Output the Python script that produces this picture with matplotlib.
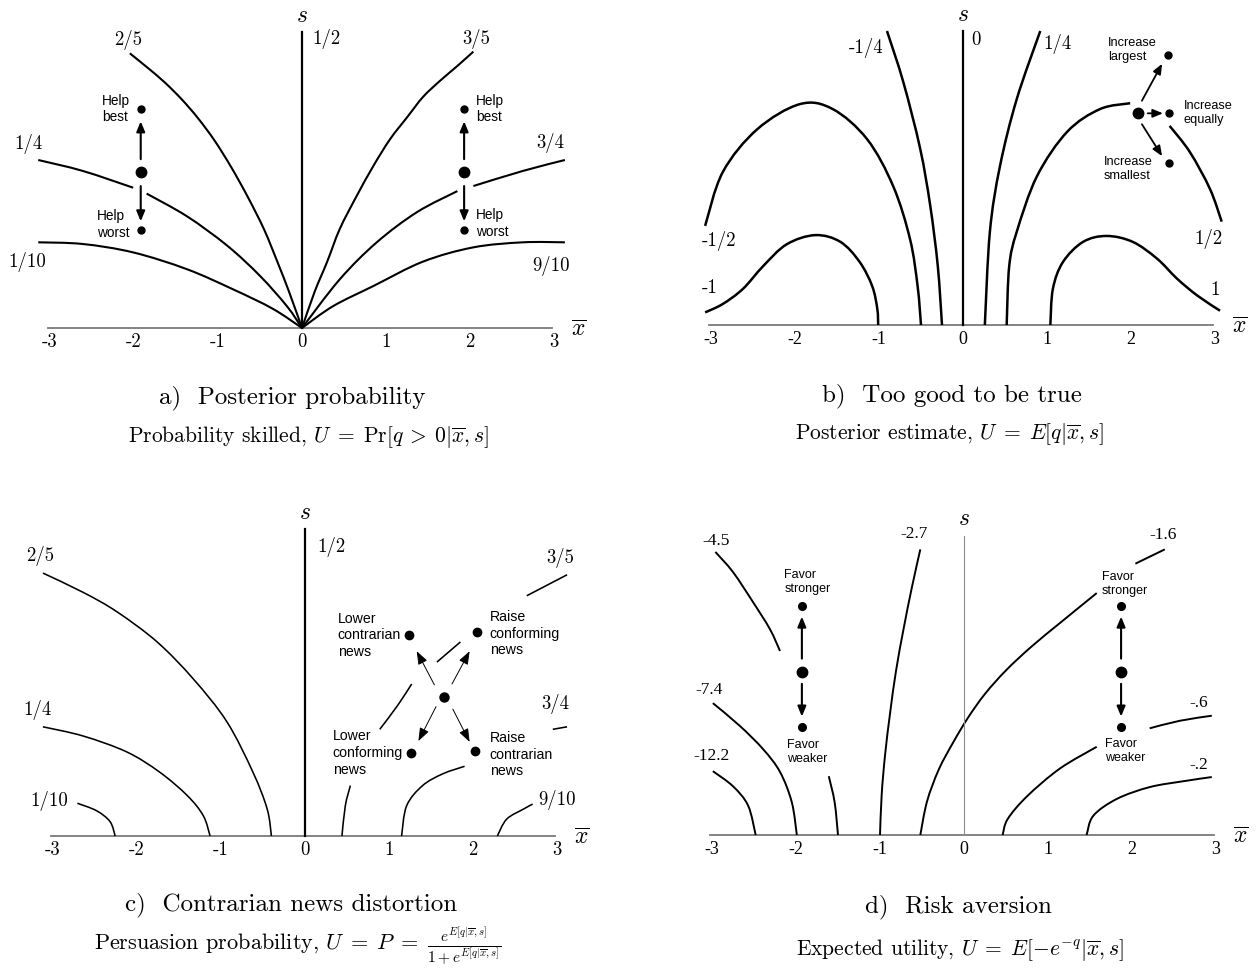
import matplotlib
matplotlib.use("Agg")
import matplotlib.pyplot as plt
from matplotlib.path import Path
from matplotlib.patches import PathPatch
import numpy as np

plt.rcParams['mathtext.fontset'] = 'cm'
nan = np.nan
W, H = 1258, 970

# ---- panel a: posterior probability, curves as (xbar, s) points
a_2_5 = [(-2.05, 3.27), (-1.84, 3.10), (-1.63, 2.92), (-1.43, 2.72), (-1.24, 2.50), (-1.04, 2.23),
         (-0.84, 1.91), (-0.64, 1.55), (-0.45, 1.17), (-0.29, 0.78), (-0.15, 0.42), (0, 0)]
a_3_5 = [(2.04, 3.29), (1.85, 3.12), (1.64, 2.94), (1.44, 2.75), (1.26, 2.52), (1.05, 2.25),
         (0.85, 1.93), (0.65, 1.57), (0.45, 1.18), (0.30, 0.79), (0.15, 0.43), (0, 0)]
a_1_4 = [(-3.14, 2.00), (-2.61, 1.87), (-2.01, 1.67), (nan, nan), (-1.85, 1.60),
         (-1.37, 1.33), (-0.89, 0.98), (-0.50, 0.62), (-0.18, 0.26), (0, 0)]
a_3_4 = [(3.13, 2.00), (2.63, 1.87), (2.04, 1.69), (nan, nan), (1.85, 1.63),
         (1.37, 1.38), (0.89, 1.02), (0.45, 0.58), (0, 0)]
a_1_10 = [(-3.14, 1.02), (-2.61, 1.00), (-2.01, 0.90), (-1.37, 0.70), (-0.82, 0.46),
          (-0.35, 0.23), (0, 0)]
a_9_10 = [(3.13, 1.02), (2.63, 1.02), (2.04, 0.96), (1.44, 0.79), (0.85, 0.50),
          (0.37, 0.26), (0, 0)]
a_dots_x = [-1.92, 1.93]
a_dots_s = [2.61, 1.86, 1.17]

# ---- panel b: too good to be true
b_m1_4 = [(-0.905, 3.50), (-0.71, 2.89), (-0.51, 2.10), (-0.39, 1.42), (-0.30, 0.70), (-0.25, 0)]
b_1_4 = [(0.92, 3.50), (0.64, 2.69), (0.44, 1.89), (0.32, 1.11), (0.26, 0)]
b_m1_2 = [(-3.07, 1.18), (-2.86, 1.82), (-2.45, 2.33), (-1.94, 2.63), (-1.55, 2.57),
          (-1.14, 2.21), (-0.83, 1.65), (-0.63, 1.02), (-0.54, 0.46), (-0.50, 0)]
b_1_2 = [(0.52, 0), (0.55, 0.70), (0.64, 1.11), (0.88, 1.77), (1.24, 2.30), (1.63, 2.57),
         (1.99, 2.64), (nan, nan), (2.46, 2.37), (2.70, 2.06), (2.94, 1.62), (3.08, 1.23)]
b_m1 = [(-3.07, 0.15), (-2.86, 0.25), (-2.62, 0.43), (-2.38, 0.70), (-2.10, 0.96),
        (-1.76, 1.07), (-1.46, 0.99), (-1.23, 0.75), (-1.08, 0.46), (-1.02, 0.19), (-1.01, 0)]
b_1 = [(1.04, 0), (1.07, 0.43), (1.19, 0.75), (1.43, 0.99), (1.71, 1.06), (2.02, 0.99),
       (2.31, 0.79), (2.55, 0.55), (2.79, 0.35), (3.06, 0.17)]
b_dot_center = (2.08, 2.52)
b_dots_x = [2.44, 2.45, 2.45]
b_dots_s = [3.21, 2.52, 1.93]

# ---- panel c: contrarian news distortion
c_2_5 = [(-3.12, 3.13), (-2.64, 2.90), (-2.24, 2.67), (-1.76, 2.31), (-1.33, 1.87),
         (-0.93, 1.36), (-0.62, 0.76), (-0.45, 0.32), (-0.40, 0)]
c_1_4 = [(-3.12, 1.30), (-2.64, 1.19), (-2.12, 1.00), (-1.73, 0.76), (-1.40, 0.48),
         (-1.21, 0.24), (-1.13, 0)]
c_1_10 = [(-2.71, 0.39), (-2.48, 0.30), (-2.32, 0.17), (-2.26, 0)]
c_3_5 = [(0.44, 0), (0.48, 0.36), (0.54, 0.60), (nan, nan), (0.89, 1.27), (1.10, 1.55),
         (1.27, 1.81), (nan, nan), (1.57, 2.07), (1.85, 2.31), (nan, nan), (2.64, 2.86), (3.12, 3.11)]
c_3_4 = [(1.15, 0), (1.21, 0.36), (1.40, 0.60), (1.64, 0.74), (1.90, 0.83), (nan, nan),
         (2.95, 1.27), (3.12, 1.30)]
c_9_10 = [(2.29, 0), (2.40, 0.20), (2.60, 0.32), (2.71, 0.38)]
c_dot_center = (1.65, 1.65)
c_dots_x = [1.24, 2.05, 1.26, 2.02]
c_dots_s = [2.39, 2.43, 0.99, 1.01]

# ---- panel d: risk aversion
d_m4_5 = [(-2.96, 3.37), (-2.75, 3.13), (-2.51, 2.77), (-2.31, 2.45), (-2.19, 2.19),
          (nan, nan), (-1.61, 0.70), (-1.54, 0.39), (-1.50, 0)]
d_m7_4 = [(-2.99, 1.57), (-2.67, 1.30), (-2.39, 1.02), (-2.19, 0.75), (-2.05, 0.39), (-1.99, 0)]
d_m12_2 = [(-2.99, 0.76), (-2.75, 0.58), (-2.57, 0.35), (-2.48, 0)]
d_m2_7 = [(-0.52, 3.40), (-0.62, 2.95), (-0.72, 2.45), (-0.81, 1.95), (-0.88, 1.45),
          (-0.94, 0.95), (-0.98, 0.48), (-1.00, 0)]
d_m1_6 = [(-0.52, 0), (-0.44, 0.40), (-0.30, 0.78), (-0.13, 1.10), (0.05, 1.40), (0.25, 1.68),
          (0.50, 1.96), (0.80, 2.24), (1.15, 2.53), (1.58, 2.88), (nan, nan), (2.04, 3.23), (2.39, 3.40)]
d_m_6 = [(0.46, 0), (0.52, 0.19), (0.75, 0.46), (1.14, 0.79), (1.58, 1.05), (nan, nan),
         (2.21, 1.27), (2.57, 1.36), (2.95, 1.42)]
d_m_2 = [(1.46, 0), (1.54, 0.23), (1.82, 0.43), (2.21, 0.57), (2.61, 0.64), (2.95, 0.69)]
d_dots_x = [-1.93, 1.87]
d_dots_s = [2.73, 1.94, 1.29]

ticks = [-3, -2, -1, 0, 1, 2, 3]

fig = plt.figure(figsize=(W / 100, H / 100), dpi=100)

CM = 'cmr10'
TIMES = 'Liberation Serif'
SANS = 'Liberation Sans'


def panel(x0, y0, unit=84.0):
    xl, xr, sb, st = -3.8, 3.8, -0.6, 4.2
    left = x0 + xl * unit
    bot = y0 - sb * unit
    top = y0 - st * unit
    ax = fig.add_axes([left / W, 1 - bot / H, (xr - xl) * unit / W, (bot - top) / H])
    ax.set_xlim(xl, xr)
    ax.set_ylim(sb, st)
    ax.axis('off')
    return ax


def curve(ax, pts, lw):
    # split at nan rows, draw each piece as a smooth bezier through the read points
    p = np.array(pts, dtype=float)
    pieces, cur = [], []
    for row in p:
        if np.isnan(row[0]):
            pieces.append(cur)
            cur = []
        else:
            cur.append(row)
    pieces.append(cur)
    for seg in pieces:
        seg = np.array(seg)
        if len(seg) < 2:
            continue
        verts, codes = [seg[0]], [Path.MOVETO]
        n = len(seg)
        for i in range(n - 1):
            p0 = seg[i - 1] if i > 0 else seg[i]
            p3 = seg[i + 2] if i + 2 < n else seg[i + 1]
            c1 = seg[i] + (seg[i + 1] - p0) / 6.0
            c2 = seg[i + 1] - (p3 - seg[i]) / 6.0
            verts += [c1, c2, seg[i + 1]]
            codes += [Path.CURVE4] * 3
        ax.add_patch(PathPatch(Path(verts, codes), fill=False, edgecolor='k', lw=lw,
                               capstyle='butt', joinstyle='round'))


def axes_frame(ax, s_top, font, tsize, vcol='k', vlw=1.6, ty=-0.16):
    ax.plot([-3.02, 2.98], [0, 0], color='#7a7a7a', lw=1.3, zorder=1)
    ax.plot([0, 0], [0, s_top], color=vcol, lw=vlw)
    for t in ticks:
        ax.text(t, ty, str(t), ha='center', va='center', fontsize=tsize, fontfamily=font)
    ax.text(0, s_top + 0.22, r'$s$', ha='center', va='center', fontsize=17)
    ax.text(3.3, 0.0, r'$\overline{x}$', ha='center', va='center', fontsize=17)


def arrow(ax, start, end, lw=1.5, hl=0.6, hw=0.25, ms=10):
    ax.annotate('', xy=end, xytext=start,
                arrowprops=dict(arrowstyle='-|>,head_length=%g,head_width=%g' % (hl, hw),
                                lw=lw, color='k', shrinkA=0, shrinkB=0, mutation_scale=ms))


def label(ax, x, s, txt, font=CM, size=13.5):
    ax.text(x, s, txt, ha='center', va='center', fontsize=size, fontfamily=font)


def note(ax, x, s, txt, size=9.8):
    ax.text(x, s, txt, ha='left', va='center', fontsize=size, fontfamily=SANS, linespacing=1.25)


# ================= panel a
ax = panel(302, 329)
axes_frame(ax, 3.52, CM, 13.5)
for c in [a_2_5, a_3_5, a_1_4, a_3_4, a_1_10, a_9_10]:
    curve(ax, c, 1.5)
for xd in a_dots_x:
    ax.plot([xd], [a_dots_s[1]], 'o', color='k', ms=7.5)
    ax.plot([xd, xd], [a_dots_s[0], a_dots_s[2]], 'o', color='k', ms=5, ls='none')
    arrow(ax, (xd, 2.01), (xd, 2.46))
    arrow(ax, (xd, 1.69), (xd, 1.27))
label(ax, -2.07, 3.44, '2/5')
label(ax, 0.29, 3.45, '1/2')
label(ax, 2.07, 3.45, '3/5')
label(ax, -3.26, 2.20, '1/4')
label(ax, 2.96, 2.21, '3/4')
label(ax, -3.27, 0.80, '1/10')
label(ax, 2.96, 0.75, '9/10')
note(ax, -2.38, 2.62, 'Help\nbest')
note(ax, -2.44, 1.24, 'Help\nworst')
note(ax, 2.07, 2.62, 'Help\nbest')
note(ax, 2.07, 1.26, 'Help\nworst')

# ================= panel b
ax = panel(963, 326)
axes_frame(ax, 3.50, TIMES, 13)
for c in [b_m1_4, b_1_4, b_m1_2, b_1_2, b_m1, b_1]:
    curve(ax, c, 1.8)
ax.plot([b_dot_center[0]], [b_dot_center[1]], 'o', color='k', ms=7.5)
ax.plot(b_dots_x, b_dots_s, 'o', color='k', ms=5, ls='none')
arrow(ax, (2.13, 2.67), (2.37, 3.11), lw=1.3)
arrow(ax, (2.20, 2.52), (2.38, 2.52), lw=1.3)
arrow(ax, (2.13, 2.39), (2.37, 2.01), lw=1.3)
label(ax, -1.15, 3.31, '-1/4')
label(ax, 0.15, 3.40, '0')
label(ax, 1.12, 3.36, '1/4')
label(ax, -2.90, 1.01, '-1/2')
label(ax, 2.92, 1.04, '1/2')
label(ax, -3.01, 0.45, '-1')
label(ax, 3.00, 0.43, '1')
note(ax, 1.73, 3.29, 'Increase\nlargest', 9.2)
note(ax, 2.63, 2.54, 'Increase\nequally', 9.2)
note(ax, 1.68, 1.87, 'Increase\nsmallest', 9.2)

# ================= panel c
ax = panel(305, 837)
axes_frame(ax, 3.65, CM, 13.5)
for c in [c_2_5, c_1_4, c_1_10, c_3_5, c_3_4, c_9_10]:
    curve(ax, c, 1.15)
ax.plot([c_dot_center[0]], [c_dot_center[1]], 'o', color='k', ms=6.5)
ax.plot(c_dots_x, c_dots_s, 'o', color='k', ms=6, ls='none')
arrow(ax, (1.54, 1.80), (1.33, 2.20), lw=0.7, hl=0.8, hw=0.3)
arrow(ax, (1.75, 1.81), (1.96, 2.20), lw=0.7, hl=0.8, hw=0.3)
arrow(ax, (1.56, 1.54), (1.35, 1.13), lw=0.7, hl=0.8, hw=0.3)
arrow(ax, (1.76, 1.51), (1.96, 1.12), lw=0.7, hl=0.8, hw=0.3)
label(ax, -3.15, 3.35, '2/5')
label(ax, 0.31, 3.45, '1/2')
label(ax, 3.04, 3.32, '3/5')
label(ax, -3.18, 1.51, '1/4')
label(ax, 2.98, 1.58, '3/4')
label(ax, -3.05, 0.43, '1/10')
label(ax, 3.00, 0.44, '9/10')
note(ax, 0.39, 2.40, 'Lower\ncontrarian\nnews', 10.2)
note(ax, 2.20, 2.42, 'Raise\nconforming\nnews', 10.2)
note(ax, 0.33, 1.00, 'Lower\nconforming\nnews', 10.2)
note(ax, 2.20, 0.98, 'Raise\ncontrarian\nnews', 10.2)

# ================= panel d
ax = panel(964, 836)
axes_frame(ax, 3.56, TIMES, 13, vcol='#8c8c8c', vlw=0.8)
for c in [d_m4_5, d_m7_4, d_m12_2, d_m2_7, d_m1_6, d_m_6, d_m_2]:
    curve(ax, c, 1.4)
for xd in d_dots_x:
    ax.plot([xd], [d_dots_s[1]], 'o', color='k', ms=7.5)
    ax.plot([xd, xd], [d_dots_s[0], d_dots_s[2]], 'o', color='k', ms=5.5, ls='none')
    arrow(ax, (xd, 2.10), (xd, 2.60))
    arrow(ax, (xd, 1.80), (xd, 1.41))
label(ax, -2.95, 3.51, '-4.5', TIMES, 12.5)
label(ax, -0.60, 3.60, '-2.7', TIMES, 12.5)
label(ax, 2.37, 3.58, '-1.6', TIMES, 12.5)
label(ax, -3.04, 1.74, '-7.4', TIMES, 12.5)
label(ax, 2.79, 1.58, '-.6', TIMES, 12.5)
label(ax, -3.00, 0.95, '-12.2', TIMES, 12.5)
label(ax, 2.80, 0.85, '-.2', TIMES, 12.5)
note(ax, -2.14, 3.02, 'Favor\nstronger', 9)
note(ax, -2.11, 1.00, 'Favor\nweaker', 9)
note(ax, 1.64, 3.00, 'Favor\nstronger', 9)
note(ax, 1.68, 1.01, 'Favor\nweaker', 9)


# ================= titles
def ftext(px, py, txt, size):
    fig.text(px / W, 1 - py / H, txt, ha='center', va='center', fontsize=size, fontfamily=CM)


ftext(292, 398, 'a)  Posterior probability', 18)
ftext(308, 437, r'Probability skilled, $U\;=\;\mathrm{Pr}[q\:>\:0|\overline{x}, s]$', 15.5)
ftext(952, 396, 'b)  Too good to be true', 18)
ftext(950, 434, r'Posterior estimate, $U\;=\;E[q|\overline{x}, s]$', 15.5)
ftext(291, 905, 'c)  Contrarian news distortion', 18)
ftext(298, 947, r'Persuasion probability, $U\;=\;P\;=\;\frac{e^{E[q|\overline{x},s]}}{1+e^{E[q|\overline{x},s]}}$', 16)
ftext(958, 907, 'd)  Risk aversion', 18)
ftext(960, 950, r'Expected utility, $U\;=\;E[-e^{-q}|\overline{x}, s]$', 15.5)

fig.savefig('out.png', dpi=100)
